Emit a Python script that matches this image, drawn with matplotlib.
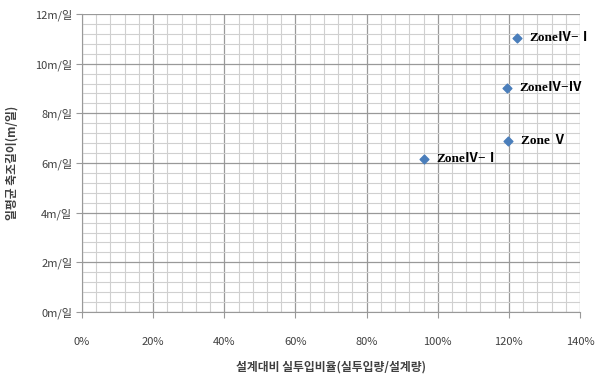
import numpy as np
import matplotlib.pyplot as plt
from matplotlib.ticker import MultipleLocator, FuncFormatter

plt.rcParams['font.family'] = ['Noto Sans CJK KR', 'DejaVu Sans']

# design-to-actual input ratio (%) vs daily average construction length (m/day)
zones = ['ZoneⅣ−Ⅰ', 'Zone Ⅴ', 'ZoneⅣ−Ⅳ', 'ZoneⅣ−Ⅰ']
ratio = [96, 119.8, 119.5, 122.3]
length = [6.15, 6.9, 9.0, 11.03]

fig = plt.figure(figsize=(5.96, 3.76), dpi=100)
ax = fig.add_axes([0.1376, 0.1702, 0.8356, 0.7926])

ax.set_xlim(0, 140)
ax.set_ylim(0, 12)
ax.xaxis.set_major_locator(MultipleLocator(20))
ax.xaxis.set_minor_locator(MultipleLocator(4))
ax.yaxis.set_major_locator(MultipleLocator(2))
ax.yaxis.set_minor_locator(MultipleLocator(0.4))
ax.xaxis.set_major_formatter(FuncFormatter(lambda v, p: f'{v:.0f}%'))
ax.yaxis.set_major_formatter(FuncFormatter(lambda v, p: f'{v:.0f}m/일'))

ax.grid(which='major', color='#999999', linewidth=0.9)
ax.grid(which='minor', color='#d0d0d0', linewidth=0.8)
ax.set_axisbelow(True)
for s in ['top', 'right']:
    ax.spines[s].set_visible(False)
for s in ['left', 'bottom']:
    ax.spines[s].set_color('#999999')
ax.tick_params(which='major', length=4, color='#999999', labelsize=8,
               labelcolor='#404040')
ax.tick_params(which='minor', length=0)
ax.tick_params(axis='x', pad=14)
ax.tick_params(axis='y', pad=3)

ax.scatter(ratio, length, marker='D', s=20, color='#4a7ebb', zorder=3,
           clip_on=False)
for x, y, z in zip(ratio, length, zones):
    ax.annotate(z, (x, y), xytext=(9, 0), textcoords='offset points',
                va='center', ha='left', fontsize=9.5, fontweight='bold',
                family=['Liberation Serif', 'Noto Sans CJK KR'],
                annotation_clip=False)

ax.set_xlabel('설계대비 실투입비율(실투입량/설계량)', fontsize=8.5,
              fontweight='bold', color='#404040', labelpad=10)
ax.set_ylabel('일평균 축조길이(m/일)', fontsize=8.5, fontweight='bold',
              color='#404040', labelpad=12)

fig.savefig('out.png', dpi=100)
